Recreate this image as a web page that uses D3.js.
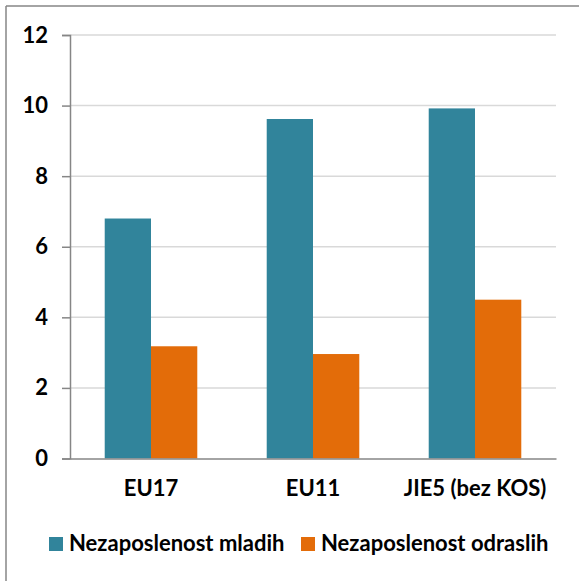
<!DOCTYPE html>
<html>
<head>
<meta charset="utf-8">
<script src="https://cdn.jsdelivr.net/npm/d3@7"></script>
<style>
  body { margin: 0; background: #fff; }
  svg text { font-family: Lato, "Open Sans", sans-serif; font-weight: bold; fill: #000; }
</style>
</head>
<body>
<svg width="579" height="581"></svg>
<script>
// data
const categories = ['EU17', 'EU11', 'JIE5 (bez KOS)'];
const seriesNames = ['Nezaposlenost mladih', 'Nezaposlenost odraslih'];
const youth = [6.8, 9.62, 9.92];
const adults = [3.18, 2.96, 4.5];
const yTicks = [0, 2, 4, 6, 8, 10, 12];
const colors = ['#31849b', '#e36c09'];

const svg = d3.select('svg');

// frame: only top and left edges visible
svg.append('line').attr('x1', 6).attr('y1', 6).attr('x2', 579).attr('y2', 6)
  .attr('stroke', '#868686').attr('stroke-width', 1.5);
svg.append('line').attr('x1', 6).attr('y1', 6).attr('x2', 6).attr('y2', 581)
  .attr('stroke', '#868686').attr('stroke-width', 1.5);

const plotLeft = 70, plotRight = 556, plotTop = 35, plotBottom = 458.5;

const x0 = d3.scaleBand().domain(categories).range([plotLeft, plotRight]).paddingInner(0).paddingOuter(0);
const x1 = d3.scaleBand().domain([0, 1]).range([0, x0.bandwidth()]).paddingInner(0).paddingOuter(0.75);
const y = d3.scaleLinear().domain([0, 12]).range([plotBottom, plotTop]);

// grid
svg.append('g')
  .selectAll('line')
  .data(yTicks.filter(d => d > 0))
  .enter().append('line')
  .attr('x1', plotLeft).attr('x2', plotRight)
  .attr('y1', d => y(d)).attr('y2', d => y(d))
  .attr('stroke', '#d9d9d9').attr('stroke-width', 1.5);

// bars
const data = categories.map((c, i) => ({ cat: c, vals: [youth[i], adults[i]] }));
const groups = svg.append('g').selectAll('g')
  .data(data).enter().append('g')
  .attr('transform', d => `translate(${x0(d.cat)},0)`);

groups.selectAll('rect')
  .data(d => d.vals.map((v, j) => ({ v, j })))
  .enter().append('rect')
  .attr('x', d => x1(d.j))
  .attr('width', x1.bandwidth())
  .attr('y', d => y(d.v))
  .attr('height', d => y(0) - y(d.v))
  .attr('fill', d => colors[d.j]);

// y axis
const yAxis = svg.append('g')
  .attr('transform', `translate(${plotLeft},0)`)
  .call(d3.axisLeft(y).tickValues(yTicks).tickSize(8).tickPadding(14).tickFormat(d3.format('d')));
yAxis.select('.domain').attr('stroke', '#868686').attr('stroke-width', 1.5);
yAxis.selectAll('.tick line').attr('stroke', '#868686').attr('stroke-width', 1.5);
yAxis.selectAll('text').style('font-size', '22px').attr('font-family', null);

// x axis
const xAxis = svg.append('g')
  .attr('transform', `translate(0,${plotBottom})`)
  .call(d3.axisBottom(x0).tickSize(0).tickPadding(22));
xAxis.select('.domain').attr('stroke', '#868686').attr('stroke-width', 1.5);
xAxis.selectAll('text').style('font-size', '22px').attr('font-family', null);

// legend
const legendX = [49, 301];
const legend = svg.append('g').selectAll('g')
  .data(seriesNames).enter().append('g')
  .attr('transform', (d, i) => `translate(${legendX[i]},537)`);
legend.append('rect').attr('width', 14).attr('height', 14)
  .attr('fill', (d, i) => colors[i]);
legend.append('text').attr('x', 20).attr('y', 14)
  .style('font-size', '22px').text(d => d);
</script>
</body>
</html>
